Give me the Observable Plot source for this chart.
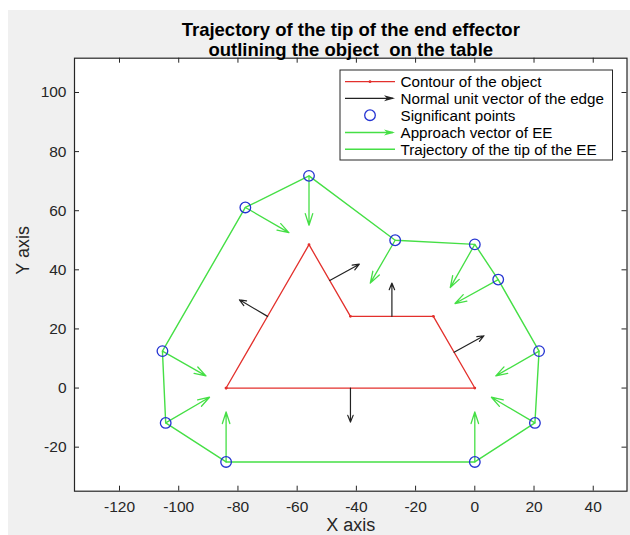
<!DOCTYPE html>
<html>
<head>
<meta charset="utf-8">
<script src="https://cdn.jsdelivr.net/npm/d3@7"></script>
<script src="https://cdn.jsdelivr.net/npm/@observablehq/plot@0.6"></script>
<style>
  html, body { margin: 0; padding: 0; background: #ffffff; }
  #wrap { position: relative; width: 630px; height: 535px; overflow: hidden; background: #ffffff; }
  #fig { position: absolute; left: 8px; top: 10px; right: 0; bottom: 0; background: #f0f0f0; }
  #chart { position: absolute; left: 0; top: 0; }
  svg text { white-space: pre; }
</style>
</head>
<body>
<div id="wrap"><div id="fig"></div><div id="chart"></div></div>
<script>
// ---- Data ----
const titleLines = ["Trajectory of the tip of the end effector", "outlining the object  on the table"];
const xLabel = "X axis";
const yLabel = "Y axis";
const xTicks = [-120, -100, -80, -60, -40, -20, 0, 20, 40];
const yTicks = [-20, 0, 20, 40, 60, 80, 100];
const xDomain = [-135.2, 51.4];
const yDomain = [-34.9, 111.6];

// Contour of the object (closed)
const contourX = [-84, -56, -42, -14, 0, -84];
const contourY = [0, 48.5, 24.25, 24.25, 0, 0];

// Normal unit vectors of the edges (start at edge midpoints)
const normalX = [-42, -70, -49, -28, -7];
const normalY = [0, 24.25, 36.4, 24.25, 12.1];
const normalU = [0, -9.5, 10, 0, 10.1];
const normalV = [-11.5, 5.6, 5.5, 11.3, 5.6];

// Significant points (trajectory order)
const sigX = [-84, -104.4, -105.5, -77.5, -56, -26.9, 0, 7.9, 21.7, 20.3, 0];
const sigY = [-25, -11.8, 12.5, 61.1, 71.8, 50.0, 48.6, 36.7, 12.5, -11.8, -25];

// Approach vectors of the end effector (start at significant points)
const approachU = [0, 14.8, 14.7, 14.7, 0, -8.4, -8.3, -14.6, -14.6, -14.7, 0];
const approachV = [16.9, 8.7, -8.4, -8.5, -16.7, -14.5, -14.6, -8.1, -8.4, 8.7, 16.9];

const legendLabels = ["Contour of the object", "Normal unit vector of the edge", "Significant points", "Approach vector of EE", "Trajectory of the tip of the EE"];

// ---- Styles ----
const RED = "#e3302c", GREEN = "#45df45", BLUE = "#2433d2", BLACK = "#222222", AX = "#262626";
const W = 630, H = 535, mL = 74, mR = 3.5, mT = 57.7, mB = 44.3;
const frameW = W - mL - mR, frameH = H - mT - mB, tickLen = 5;
const FONT = "'Liberation Sans', Arial, Helvetica, sans-serif";

const contour = contourX.map((x, i) => ({x, y: contourY[i]}));
const normals = normalX.map((x, i) => ({x1: x, y1: normalY[i], x2: x + normalU[i], y2: normalY[i] + normalV[i]}));
const sig = sigX.map((x, i) => ({x, y: sigY[i]}));
const traj = [...sig, sig[0]];
const approach = sigX.map((x, i) => ({x1: x, y1: sigY[i], x2: x + approachU[i], y2: sigY[i] + approachV[i]}));
const fmt = d => String(d);

const chart = Plot.plot({
  width: W, height: H,
  marginLeft: mL, marginRight: mR, marginTop: mT, marginBottom: mB,
  style: {background: "transparent", fontFamily: FONT, color: AX, overflow: "visible"},
  x: {domain: xDomain},
  y: {domain: yDomain},
  marks: [
    Plot.frame({fill: "white", stroke: "none"}),
    // contour
    Plot.line(contour, {x: "x", y: "y", stroke: RED, strokeWidth: 1.3}),
    Plot.dot(contour, {x: "x", y: "y", r: 1.4, fill: RED}),
    // normals
    Plot.arrow(normals, {x1: "x1", y1: "y1", x2: "x2", y2: "y2", stroke: BLACK, strokeWidth: 1.2, headLength: 9, headAngle: 44}),
    // trajectory
    Plot.line(traj, {x: "x", y: "y", stroke: GREEN, strokeWidth: 1.4}),
    // approach vectors
    Plot.arrow(approach, {x1: "x1", y1: "y1", x2: "x2", y2: "y2", stroke: GREEN, strokeWidth: 1.3, headLength: 14, headAngle: 36}),
    // significant points
    Plot.dot(sig, {x: "x", y: "y", r: 5.3, stroke: BLUE, strokeWidth: 1.3, fill: "none"}),
    // inward ticks on all four sides
    Plot.ruleX(xTicks, {insetTop: frameH - tickLen, stroke: AX, strokeWidth: 1}),
    Plot.ruleX(xTicks, {insetBottom: frameH - tickLen, stroke: AX, strokeWidth: 1}),
    Plot.ruleY(yTicks, {insetRight: frameW - tickLen, stroke: AX, strokeWidth: 1}),
    Plot.ruleY(yTicks, {insetLeft: frameW - tickLen, stroke: AX, strokeWidth: 1}),
    Plot.axisX({anchor: "bottom", ticks: xTicks, tickFormat: fmt, tickSize: 0, tickPadding: 10, fontSize: 15.5, label: null, fill: AX}),
    Plot.axisY({anchor: "left", ticks: yTicks, tickFormat: fmt, tickSize: 0, tickPadding: 8, fontSize: 15.5, label: null, fill: AX}),
    Plot.frame({stroke: AX, strokeWidth: 1.2}),
    // axis labels
    Plot.text([xLabel], {frameAnchor: "bottom", dy: 39.5, fontSize: 18, fill: AX}),
    Plot.text([yLabel], {frameAnchor: "left", dx: -51, rotate: -90, fontSize: 18, fill: AX}),
    // title
    Plot.text([titleLines[0]], {frameAnchor: "top", dy: -35.2, fontSize: 18.5, fontWeight: "bold", fill: "#000"}),
    Plot.text([titleLines[1]], {frameAnchor: "top", dy: -15.2, fontSize: 18.5, fontWeight: "bold", fill: "#000"})
  ]
});
document.getElementById("chart").appendChild(chart);

// ---- Legend (inside the axes, top-right) ----
const svg = d3.select(chart);
const lg = svg.append("g").attr("font-family", FONT).attr("font-size", 15.2).attr("fill", "#000").attr("text-anchor", "start");
const lx = 340, ly = 70, lw = 272.5, lh = 90;
lg.append("rect").attr("x", lx).attr("y", ly).attr("width", lw).attr("height", lh)
  .attr("fill", "white").attr("stroke", AX).attr("stroke-width", 1);
const rowY = [81.7, 98.3, 115.2, 132.5, 149.3];
const s0 = 345, s1 = 395, tx = 400.5;
legendLabels.forEach((lab, i) => {
  const y = rowY[i];
  lg.append("text").attr("x", tx).attr("y", y).attr("dy", "0.35em").attr("text-anchor", "start").text(lab);
});
// samples
lg.append("line").attr("x1", s0).attr("x2", s1).attr("y1", rowY[0]).attr("y2", rowY[0]).attr("stroke", RED).attr("stroke-width", 1.2);
lg.append("circle").attr("cx", (s0 + s1) / 2).attr("cy", rowY[0]).attr("r", 1.4).attr("fill", RED);
lg.append("line").attr("x1", s0).attr("x2", s1 - 2).attr("y1", rowY[1]).attr("y2", rowY[1]).attr("stroke", BLACK).attr("stroke-width", 1.3);
lg.append("path").attr("d", `M${s1 - 11},${rowY[1] - 3}L${s1},${rowY[1]}L${s1 - 11},${rowY[1] + 3}L${s1 - 8},${rowY[1]}Z`).attr("fill", BLACK);
lg.append("circle").attr("cx", (s0 + s1) / 2).attr("cy", rowY[2]).attr("r", 5.3).attr("fill", "none").attr("stroke", BLUE).attr("stroke-width", 1.3);
lg.append("line").attr("x1", s0).attr("x2", s1 - 2).attr("y1", rowY[3]).attr("y2", rowY[3]).attr("stroke", GREEN).attr("stroke-width", 1.4);
lg.append("path").attr("d", `M${s1 - 11},${rowY[3] - 3}L${s1},${rowY[3]}L${s1 - 11},${rowY[3] + 3}L${s1 - 8},${rowY[3]}Z`).attr("fill", GREEN);
lg.append("line").attr("x1", s0).attr("x2", s1).attr("y1", rowY[4]).attr("y2", rowY[4]).attr("stroke", GREEN).attr("stroke-width", 1.4);
</script>
</body>
</html>
